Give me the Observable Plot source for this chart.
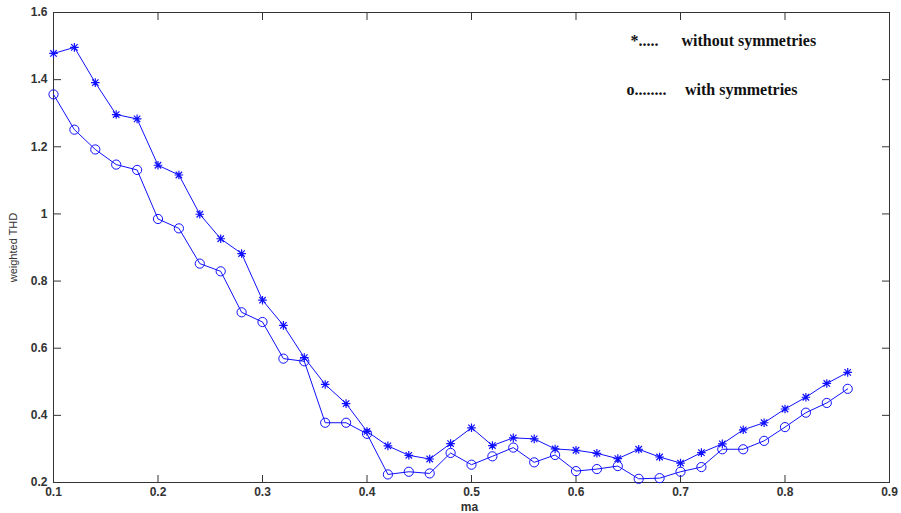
<!DOCTYPE html>
<html>
<head>
<meta charset="utf-8">
<script src="https://cdn.jsdelivr.net/npm/d3@7"></script>
<script src="https://cdn.jsdelivr.net/npm/@observablehq/plot@0.6"></script>
<style>
  html, body { margin: 0; padding: 0; background: #fff; }
  #chart svg { display: block; }
</style>
</head>
<body>
<div id="chart"></div>
<script>
const ma = [0.10,0.12,0.14,0.16,0.18,0.20,0.22,0.24,0.26,0.28,0.30,0.32,0.34,0.36,0.38,0.40,0.42,0.44,0.46,0.48,0.50,0.52,0.54,0.56,0.58,0.60,0.62,0.64,0.66,0.68,0.70,0.72,0.74,0.76,0.78,0.80,0.82,0.84,0.86];
const withoutSym = [1.478,1.496,1.391,1.296,1.283,1.145,1.116,0.999,0.926,0.882,0.743,0.668,0.572,0.492,0.435,0.352,0.309,0.281,0.270,0.316,0.363,0.310,0.333,0.330,0.300,0.296,0.287,0.271,0.299,0.276,0.258,0.289,0.315,0.357,0.378,0.419,0.454,0.495,0.528];
const withSym = [1.356,1.251,1.192,1.147,1.131,0.985,0.957,0.852,0.829,0.707,0.678,0.569,0.561,0.378,0.378,0.345,0.224,0.232,0.227,0.288,0.253,0.278,0.304,0.260,0.282,0.234,0.240,0.249,0.211,0.213,0.232,0.246,0.299,0.299,0.324,0.365,0.408,0.437,0.479];
const xTicks = [0.1,0.2,0.3,0.4,0.5,0.6,0.7,0.8,0.9];
const yTicks = [0.2,0.4,0.6,0.8,1,1.2,1.4,1.6];
const xLabel = "ma";
const yLabel = "weighted THD";
const legendMarkers = ["*.....", "o........"];
const legendLabels = ["without symmetries", "with symmetries"];

const rowsA = ma.map((x, i) => ({x, y: withoutSym[i]}));
const rowsB = ma.map((x, i) => ({x, y: withSym[i]}));

const asterisk = {
  draw(context, size) {
    const r = Math.sqrt(size / Math.PI);
    const d = r * 0.75;
    context.moveTo(-r, 0); context.lineTo(r, 0);
    context.moveTo(0, -r); context.lineTo(0, r);
    context.moveTo(-d, -d); context.lineTo(d, d);
    context.moveTo(-d, d); context.lineTo(d, -d);
  }
};

const BLUE = "#1010ff";
const AX = "#333";
const fmt = d => d.toString();
const tickFont = {fontFamily: "Liberation Sans, Arial, sans-serif", fontSize: 12, fontWeight: "bold"};

const plot = Plot.plot({
  width: 901,
  height: 513,
  marginLeft: 53,
  marginRight: 12,
  marginTop: 12,
  marginBottom: 31,
  style: {background: "#fff", color: AX, fontFamily: "Liberation Sans, Arial, sans-serif"},
  x: {domain: [0.1, 0.9], label: null},
  y: {domain: [0.2, 1.6], label: null},
  marks: [
    // inward ticks on all four sides
    Plot.axisY(yTicks, {anchor: "left", tickSize: 8, dx: 8, tickFormat: () => "", stroke: AX}),
    Plot.axisY(yTicks, {anchor: "right", tickSize: 8, dx: -8, tickFormat: () => "", stroke: AX}),
    Plot.axisX(xTicks, {anchor: "bottom", tickSize: 7, dy: -7, tickFormat: () => "", stroke: AX}),
    Plot.axisX(xTicks, {anchor: "top", tickSize: 7, dy: 7, tickFormat: () => "", stroke: AX}),
    // tick labels
    Plot.axisY(yTicks, {anchor: "left", tickSize: 0, tickPadding: 6, tickFormat: fmt, label: null, fill: AX, ...tickFont}),
    Plot.axisX(xTicks, {anchor: "bottom", tickSize: 0, tickPadding: 5, tickFormat: fmt, label: null, fill: AX, ...tickFont}),
    Plot.frame({stroke: AX, strokeWidth: 1}),
    // series
    Plot.line(rowsA, {x: "x", y: "y", stroke: BLUE, strokeWidth: 1}),
    Plot.dot(rowsA, {x: "x", y: "y", symbol: asterisk, r: 4.3, stroke: BLUE, fill: "none", strokeWidth: 1.2}),
    Plot.line(rowsB, {x: "x", y: "y", stroke: BLUE, strokeWidth: 1}),
    Plot.dot(rowsB, {x: "x", y: "y", symbol: "circle", r: 4.6, stroke: BLUE, fill: "none", strokeWidth: 1}),
    // axis titles
    Plot.text([yLabel], {text: d => d, frameAnchor: "left", dx: -40.5, rotate: -90, textAnchor: "middle", lineAnchor: "middle", fill: AX, fontSize: 11, fontFamily: "Liberation Sans, Arial, sans-serif"}),
    Plot.text([xLabel], {text: d => d, frameAnchor: "bottom", dx: -2, dy: 28, textAnchor: "middle", lineAnchor: "bottom", fill: AX, fontSize: 12, fontWeight: "bold", fontFamily: "Liberation Sans, Arial, sans-serif"}),
    // legend annotations
    Plot.text([legendMarkers[0]], {text: d => d, frameAnchor: "top-left", dx: 577, dy: 33, textAnchor: "start", lineAnchor: "bottom", fill: "#111", fontSize: 16, fontWeight: "bold", fontFamily: "Liberation Serif, Times New Roman, serif"}),
    Plot.text([legendLabels[0]], {text: d => d, frameAnchor: "top-left", dx: 628, dy: 33, textAnchor: "start", lineAnchor: "bottom", fill: "#111", fontSize: 16, fontWeight: "bold", fontFamily: "Liberation Serif, Times New Roman, serif"}),
    Plot.text([legendMarkers[1]], {text: d => d, frameAnchor: "top-left", dx: 573, dy: 82, textAnchor: "start", lineAnchor: "bottom", fill: "#111", fontSize: 16, fontWeight: "bold", fontFamily: "Liberation Serif, Times New Roman, serif"}),
    Plot.text([legendLabels[1]], {text: d => d, frameAnchor: "top-left", dx: 631.5, dy: 82, textAnchor: "start", lineAnchor: "bottom", fill: "#111", fontSize: 16, fontWeight: "bold", fontFamily: "Liberation Serif, Times New Roman, serif"})
  ]
});
document.getElementById("chart").appendChild(plot);
</script>
</body>
</html>
